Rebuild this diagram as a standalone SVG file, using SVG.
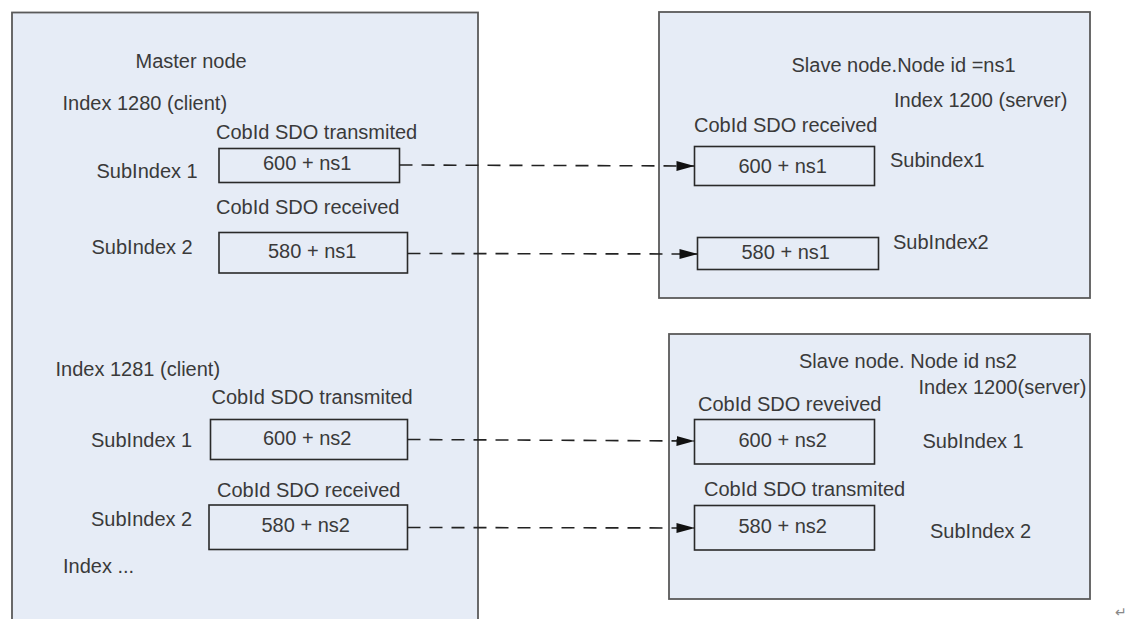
<svg xmlns="http://www.w3.org/2000/svg" width="1129" height="619" viewBox="0 0 1129 619">
  <defs>
    <marker id="arrow" markerWidth="18" markerHeight="12" refX="18" refY="6" orient="auto" markerUnits="userSpaceOnUse">
      <path d="M0,1 L18,6 L0,11 Z" fill="#111"/>
    </marker>
  </defs>
  <style>
    .node { fill: #E6ECF6; stroke: #5a5a5a; stroke-width: 1.8; }
    .field { fill: #E6ECF6; stroke: #2a2a2a; stroke-width: 1.6; }
    text { font-family: "Liberation Sans", Arial, sans-serif; font-size: 20px; fill: #3a3a3a; }
    .link { fill: none; stroke: #222; stroke-width: 1.6; stroke-dasharray: 13 9; }
    .mark { font-size: 14px; fill: #888; }
  </style>

  <rect width="1129" height="619" fill="#ffffff"/>

  <!-- Master node -->
  <g id="master">
    <rect class="node" x="12" y="12.5" width="466" height="620"/>
    <text x="135.5" y="68">Master node</text>
    <text x="62.5" y="110">Index 1280 (client)</text>
    <text x="216" y="139">CobId SDO transmited</text>
    <text x="96.5" y="177.5">SubIndex 1</text>
    <text x="216" y="214">CobId SDO received</text>
    <text x="91.5" y="254">SubIndex 2</text>
    <text x="55.5" y="376">Index 1281 (client)</text>
    <text x="211.5" y="404">CobId SDO transmited</text>
    <text x="91" y="446.5">SubIndex 1</text>
    <text x="217" y="496.5">CobId SDO received</text>
    <text x="91" y="526">SubIndex 2</text>
    <text x="63" y="573">Index ...</text>
  </g>
  <g id="m-tx-ns1">
    <rect class="field" x="219" y="148.5" width="180.5" height="34"/>
    <text x="263" y="170">600 + ns1</text>
  </g>
  <g id="m-rx-ns1">
    <rect class="field" x="219" y="232.5" width="188.5" height="40.5"/>
    <text x="268" y="258">580 + ns1</text>
  </g>
  <g id="m-tx-ns2">
    <rect class="field" x="210.5" y="419.5" width="197" height="40"/>
    <text x="263" y="445">600 + ns2</text>
  </g>
  <g id="m-rx-ns2">
    <rect class="field" x="209" y="505" width="198.5" height="44.5"/>
    <text x="261.5" y="532">580 + ns2</text>
  </g>

  <!-- Slave node ns1 -->
  <g id="slave-ns1">
    <rect class="node" x="659" y="12" width="431" height="286"/>
    <text x="791.5" y="71.5">Slave node.Node id =ns1</text>
    <text x="894" y="107">Index 1200 (server)</text>
    <text x="694" y="131.5">CobId SDO received</text>
    <text x="890" y="167">Subindex1</text>
    <text x="893" y="249">SubIndex2</text>
  </g>
  <g id="s1-rx">
    <rect class="field" x="694.5" y="146.5" width="180" height="39"/>
    <text x="738.5" y="172.5">600 + ns1</text>
  </g>
  <g id="s1-tx">
    <rect class="field" x="697.5" y="237.5" width="181" height="32"/>
    <text x="741.5" y="258.5">580 + ns1</text>
  </g>

  <!-- Slave node ns2 -->
  <g id="slave-ns2">
    <rect class="node" x="669" y="334" width="421" height="265"/>
    <text x="799" y="368">Slave node. Node id ns2</text>
    <text x="918.5" y="394">Index 1200(server)</text>
    <text x="698" y="410.5">CobId SDO reveived</text>
    <text x="922.5" y="448">SubIndex 1</text>
    <text x="704" y="496">CobId SDO transmited</text>
    <text x="930" y="538">SubIndex 2</text>
  </g>
  <g id="s2-rx">
    <rect class="field" x="694.5" y="419.5" width="180" height="44.5"/>
    <text x="738.5" y="447">600 + ns2</text>
  </g>
  <g id="s2-tx">
    <rect class="field" x="694.5" y="505.5" width="180" height="44.5"/>
    <text x="738.5" y="532.5">580 + ns2</text>
  </g>

  <!-- Connectors -->
  <g id="connectors">
    <path class="link" d="M399.5,165 L694.5,166" marker-end="url(#arrow)"/>
    <path class="link" d="M407.5,253.5 L697.5,254" marker-end="url(#arrow)"/>
    <path class="link" d="M407.5,439.5 L694.5,441" marker-end="url(#arrow)"/>
    <path class="link" d="M407.5,527.5 L694.5,528" marker-end="url(#arrow)"/>
  </g>

  <text class="mark" x="1115" y="617">↵</text>
</svg>
